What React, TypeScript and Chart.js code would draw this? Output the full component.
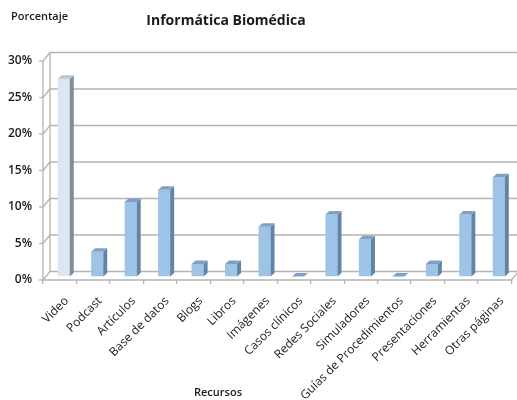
import React, { useEffect, useRef } from "react";
import { Chart, registerables } from "chart.js";

Chart.register(...registerables);

const categories = [
  "Video",
  "Podcast",
  "Artículos",
  "Base de datos",
  "Blogs",
  "Libros",
  "Imágenes",
  "Casos clínicos",
  "Redes Sociales",
  "Simuladores",
  "Guías de Procedimientos",
  "Presentaciones",
  "Herramientas",
  "Otras páginas",
];
const percentages = [27.1, 3.4, 10.2, 11.9, 1.7, 1.7, 6.8, 0, 8.5, 5.1, 0, 1.7, 8.5, 13.6];
const yTicks = [0, 5, 10, 15, 20, 25, 30];
const titleText = "Informática Biomédica";
const yAxisTitle = "Porcentaje";
const xAxisTitle = "Recursos";

const FONT = "'Open Sans', sans-serif";
const BACK_DX = 7;
const BACK_DY = 8.5;
const BAR_DX = 4;
const BAR_DY = 3.5;

const threeD = {
  id: "threeD",
  beforeDatasetsDraw(chart: any) {
    const { ctx, chartArea } = chart;
    const y = chart.scales.y;
    const { left, right, bottom } = chartArea;
    ctx.save();
    ctx.strokeStyle = "#b4b4b4";
    ctx.lineWidth = 1.3;
    yTicks.forEach((v) => {
      const yf = y.getPixelForValue(v);
      ctx.beginPath();
      ctx.moveTo(left, yf);
      ctx.lineTo(left + BACK_DX, yf - BACK_DY);
      ctx.lineTo(right + BACK_DX, yf - BACK_DY);
      ctx.stroke();
      ctx.beginPath();
      ctx.moveTo(left - 4, yf);
      ctx.lineTo(left, yf);
      ctx.stroke();
    });
    const y0 = y.getPixelForValue(0);
    const yMax = y.getPixelForValue(30);
    ctx.beginPath();
    ctx.moveTo(left + BACK_DX, y0 - BACK_DY);
    ctx.lineTo(left + BACK_DX, yMax - BACK_DY);
    ctx.stroke();
    ctx.beginPath();
    ctx.moveTo(left, y0);
    ctx.lineTo(left, yMax);
    ctx.stroke();
    ctx.beginPath();
    ctx.moveTo(left, bottom);
    ctx.lineTo(right, bottom);
    ctx.lineTo(right + BACK_DX, bottom - BACK_DY);
    ctx.stroke();
    ctx.restore();
    ctx.save();
    ctx.translate(BAR_DX, -BAR_DY);
  },
  afterDatasetsDraw(chart: any) {
    const { ctx } = chart;
    const meta = chart.getDatasetMeta(0);
    meta.data.forEach((bar: any, i: number) => {
      const { x, y, base, width } = bar.getProps(["x", "y", "base", "width"], true);
      const l = x - width / 2;
      const r = x + width / 2;
      const first = i === 0;
      ctx.beginPath();
      ctx.moveTo(r, y);
      ctx.lineTo(r + BAR_DX, y - BAR_DY);
      ctx.lineTo(r + BAR_DX, base - BAR_DY);
      ctx.lineTo(r, base);
      ctx.closePath();
      ctx.fillStyle = first ? "#7f8c9c" : "#6483a8";
      ctx.fill();
      ctx.beginPath();
      ctx.moveTo(l, y);
      ctx.lineTo(l + BAR_DX, y - BAR_DY);
      ctx.lineTo(r + BAR_DX, y - BAR_DY);
      ctx.lineTo(r, y);
      ctx.closePath();
      ctx.fillStyle = first ? "#b9c6d6" : "#7f9fc4";
      ctx.fill();
    });
    ctx.restore();
  },
  afterDraw(chart: any) {
    const { ctx } = chart;
    ctx.save();
    ctx.fillStyle = "#1a1a1a";
    ctx.textBaseline = "middle";
    ctx.font = `bold 14px ${FONT}`;
    ctx.textAlign = "center";
    ctx.fillText(titleText, 226, 21);
    ctx.font = `600 11px ${FONT}`;
    ctx.textAlign = "left";
    ctx.fillText(yAxisTitle, 11, 17);
    ctx.textAlign = "center";
    ctx.fillText(xAxisTitle, 218, 393);
    ctx.restore();
  },
};

export default function App() {
  const ref = useRef<HTMLCanvasElement | null>(null);
  useEffect(() => {
    if (!ref.current) return;
    const colors = percentages.map((_, i) => (i === 0 ? "#dce7f5" : "#9dc3e6"));
    const chart = new Chart(ref.current, {
      type: "bar",
      data: {
        labels: categories,
        datasets: [
          {
            data: percentages,
            backgroundColor: colors,
            borderWidth: 0,
            barPercentage: 0.36,
            categoryPercentage: 1,
          },
        ],
      },
      options: {
        animation: false,
        responsive: false,
        devicePixelRatio: 1,
        layout: { padding: { top: 61, left: 0, right: 5.5, bottom: 0 } },
        plugins: { legend: { display: false }, tooltip: { enabled: false }, title: { display: false } },
        scales: {
          x: {
            grid: {
              offset: true,
              drawOnChartArea: false,
              drawTicks: true,
              tickLength: 4,
              color: "#b4b4b4",
              lineWidth: 1.3,
            },
            border: { display: false },
            ticks: {
              autoSkip: false,
              minRotation: 45,
              maxRotation: 45,
              padding: 10,
              labelOffset: 7,
              color: "#1a1a1a",
              font: { family: FONT, size: 12 },
            },
            afterFit: (s: any) => {
              s.height = 120;
            },
          },
          y: {
            min: 0,
            max: 30,
            grid: { display: false, drawTicks: false },
            border: { display: false },
            ticks: {
              stepSize: 5,
              padding: 11,
              color: "#1a1a1a",
              font: { family: FONT, size: 12, weight: 600 },
              callback: (v: any) => `${v}%`,
            },
            afterFit: (s: any) => {
              s.width = 43;
            },
          },
        },
      },
      plugins: [threeD],
    });
    return () => chart.destroy();
  }, []);
  return (
    <div style={{ position: "fixed", left: 0, top: 0, width: 517, height: 400, background: "#fff" }}>
      <canvas ref={ref} width={517} height={400} style={{ width: 517, height: 400 }} />
    </div>
  );
}
